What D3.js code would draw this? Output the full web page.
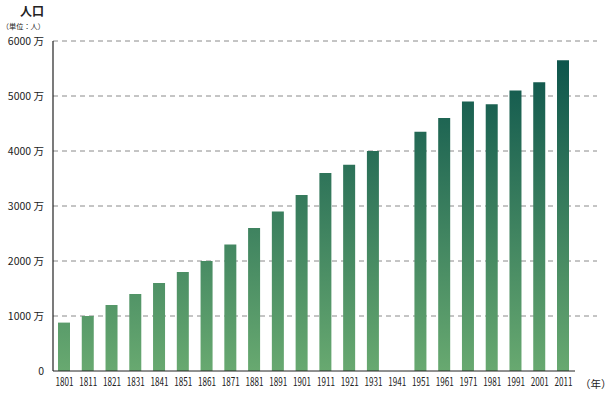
<!DOCTYPE html>
<html lang="ja">
<head>
<meta charset="UTF-8">
<title>人口</title>
<script src="https://cdn.jsdelivr.net/npm/d3@7"></script>
<style>
    body { margin: 0; background: #fff; }
    text { font-family: "Noto Sans CJK JP", "Noto Sans", sans-serif; fill: #222; }
</style>
</head>
<body>
<svg id="main" width="610" height="396"></svg>
<script>
    // data (万人)
    var years = ["1801","1811","1821","1831","1841","1851","1861","1871","1881","1891","1901",
                 "1911","1921","1931","1941","1951","1961","1971","1981","1991","2001","2011"];
    var population = [880, 1000, 1200, 1400, 1600, 1800, 2000, 2300, 2600, 2900, 3200,
                      3600, 3750, 4000, null, 4350, 4600, 4900, 4850, 5100, 5250, 5650];
    var yTicks = [0, 1000, 2000, 3000, 4000, 5000, 6000];

    var svg = d3.select("#main");
    var plotLeft = 53, plotRight = 597, plotTop = 41, plotBottom = 371;

    var x = d3.scalePoint().domain(years).range([64, 563]);
    var y = d3.scaleLinear().domain([0, 6000]).range([plotBottom, plotTop]);
    var barW = 12;

    var grad = svg.append("defs").append("linearGradient")
        .attr("id", "barGrad")
        .attr("gradientUnits", "userSpaceOnUse")
        .attr("x1", 0).attr("x2", 0)
        .attr("y1", y(0)).attr("y2", y(6000));
    grad.append("stop").attr("offset", "0%").attr("stop-color", "#68a970");
    grad.append("stop").attr("offset", "100%").attr("stop-color", "#08504a");

    // grid
    svg.append("g").selectAll("line")
        .data(yTicks.slice(1))
        .enter().append("line")
        .attr("x1", plotLeft).attr("x2", plotRight)
        .attr("y1", function(d) { return y(d); })
        .attr("y2", function(d) { return y(d); })
        .attr("stroke", "#8a8a8a")
        .attr("stroke-width", 1)
        .attr("stroke-dasharray", "5,4");

    // bars
    var data = years.map(function(d, i) { return {year: d, value: population[i]}; })
        .filter(function(d) { return d.value != null; });
    svg.append("g").selectAll("rect")
        .data(data)
        .enter().append("rect")
        .attr("x", function(d) { return x(d.year) - barW / 2; })
        .attr("y", function(d) { return y(d.value); })
        .attr("width", barW)
        .attr("height", function(d) { return y(0) - y(d.value); })
        .attr("fill", "url(#barGrad)");

    // axis lines
    svg.append("line").attr("x1", plotLeft).attr("x2", plotLeft).attr("y1", plotTop).attr("y2", plotBottom)
        .attr("stroke", "#222").attr("stroke-width", 1.2);
    svg.append("line").attr("x1", plotLeft).attr("x2", 575).attr("y1", plotBottom).attr("y2", plotBottom)
        .attr("stroke", "#222").attr("stroke-width", 1.2);

    // y labels
    svg.append("g").selectAll("text")
        .data(yTicks)
        .enter().append("text")
        .attr("x", 44)
        .attr("y", function(d) { return y(d); })
        .attr("dy", "0.35em")
        .attr("text-anchor", "end")
        .style("font-size", "10.5px")
        .text(function(d) { return d === 0 ? "0" : d + " 万"; });

    // x labels (condensed like the original)
    var xAxis = d3.axisBottom(x).tickSize(0).tickPadding(0);
    var gx = svg.append("g").attr("transform", "translate(0," + 378 + ")").call(xAxis);
    gx.select(".domain").remove();
    gx.selectAll("text")
        .attr("dy", "0.71em")
        .attr("textLength", 18)
        .attr("lengthAdjust", "spacingAndGlyphs")
        .style("font-size", "11.5px")
        .attr("fill", "#222");

    svg.append("text").attr("x", 580).attr("y", 384).attr("dy", "0.35em")
        .style("font-size", "10.5px").text("（年）");

    svg.append("text").attr("x", 44).attr("y", 12).attr("dy", "0.35em")
        .attr("text-anchor", "end").style("font-size", "12px").style("font-weight", "bold")
        .text("人口");
    svg.append("text").attr("x", 45).attr("y", 26).attr("dy", "0.35em")
        .attr("text-anchor", "end").style("font-size", "7.2px")
        .text("（単位：人）");
</script>
</body>
</html>
